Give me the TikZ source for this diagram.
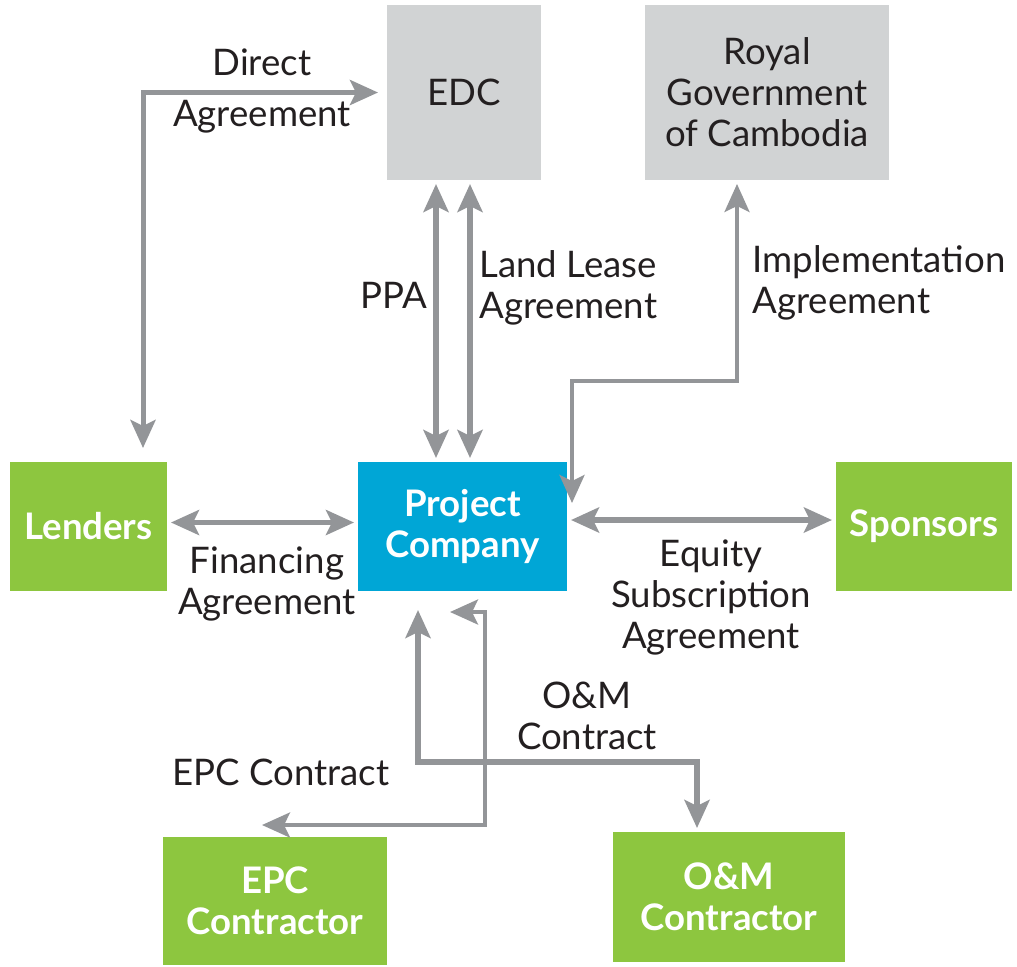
\documentclass[tikz,border=0pt]{standalone}
\usepackage{fontspec}
\setmainfont{Lato}
\usetikzlibrary{arrows.meta}
\definecolor{boxgray}{HTML}{D1D3D4}
\definecolor{boxgreen}{HTML}{8DC63F}
\definecolor{boxblue}{HTML}{00A6D6}
\definecolor{linkgray}{HTML}{939598}
\definecolor{ink}{HTML}{231F20}
\tikzset{
  box/.style={inner sep=0pt, outer sep=2pt, align=center, text=white,
    font=\fontsize{18.3}{20.5}\selectfont\bfseries},
  govbox/.style={box, fill=boxgray, text=ink, font=\fontsize{18.3}{20.5}\selectfont},
  link/.style={draw=linkgray, line width=2.5pt, {Stealth[length=14pt, width=12.5pt, inset=3pt]}-{Stealth[length=14pt, width=12.5pt, inset=3pt]}},
  lbl/.style={text=ink, inner sep=0pt, align=center, font=\fontsize{18.3}{20.5}\selectfont},
}
\begin{document}
\begin{tikzpicture}[x=0.5pt, y=-0.5pt]
            \useasboundingbox (0,0) rectangle (1017,966);
            % boxes
            \node[govbox, minimum width=77pt, minimum height=87.5pt] (edc) at (464,92.5) {EDC};
            \node[govbox, minimum width=122pt, minimum height=87.5pt] (rgc) at (767,92.5) {Royal\\Government\\of Cambodia};
            \node[box, fill=boxgreen, minimum width=78.5pt, minimum height=64.5pt] (lend) at (88.5,526.5) {Lenders};
            \node[box, fill=boxblue, minimum width=104.5pt, minimum height=64.5pt] (pc) at (462.5,526.5) {Project\\Company};
            \node[box, fill=boxgreen, minimum width=88pt, minimum height=64.5pt] (spon) at (924,526.5) {Sponsors};
            \node[box, fill=boxgreen, minimum width=112pt, minimum height=64pt] (epc) at (275,901) {EPC\\Contractor};
            \node[box, fill=boxgreen, minimum width=116pt, minimum height=65pt] (om) at (729,897) {O\&M\\Contractor};
            \coordinate (impl) at (572,503);
            \coordinate (epctip) at (450,612);
            \coordinate (omtip) at (418,610);
            % agreements
            \draw[link, shorten <=2.5pt, shorten >=5pt] (edc.west) -| ([xshift=27.25pt]lend.north);
            \draw[link, line width=3pt] ([xshift=-14pt]edc.south) -- ([xshift=-14pt]edc.south |- pc.north);
            \draw[link, line width=3pt] ([xshift=3pt]edc.south) -- ([xshift=3pt]edc.south |- pc.north);
            \draw[link, line width=1.75pt] ([xshift=-15pt]rgc.south) -- ++(0,-98.5pt) -| (impl);
            \draw[link] ([yshift=2pt]lend.east) -- ([yshift=2pt]pc.west);
            \draw[link, line width=3pt] ([yshift=3.25pt]pc.east) -- ([yshift=3.25pt]spon.west);
            \draw[link, line width=2pt] (epctip) -- ++(17.5pt,0) |- ([xshift=-6.5pt,yshift=4pt]epc.north);
            \draw[link, line width=3.25pt] (omtip) -- ++(0,-76pt) -| ([xshift=-16pt]om.north);
            % labels
            \node[lbl] (ldirect) at (262,91) {Direct\\[5pt]Agreement};
            \node[lbl, anchor=east] (lppa) at (428,295) {PPA};
            \node[lbl, anchor=west, align=left] (lland) at (479,288) {Land Lease\\Agreement};
            \node[lbl, anchor=west, align=left] (limpl) at (752,283) {Implementation\\Agreement};
            \node[lbl] (lfin) at (267,584) {Financing\\Agreement};
            \node[lbl] (lequity) at (711,597) {Equity\\Subscription\\Agreement};
            \node[lbl] (lom) at (587,716) {O\&M\\Contract};
            \node[lbl] (lepc) at (281,772) {EPC Contract};
        \end{tikzpicture}
\end{document}
